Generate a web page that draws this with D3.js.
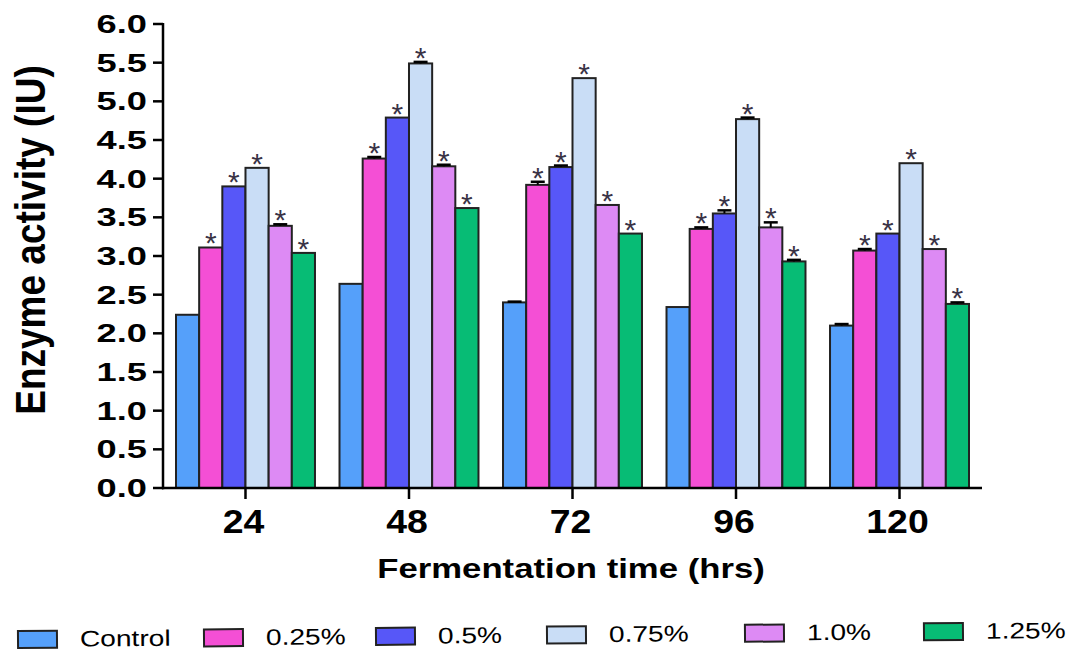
<!DOCTYPE html>
<html>
<head>
<meta charset="utf-8">
<script src="https://cdn.jsdelivr.net/npm/d3@7"></script>
<style>
  html, body { margin: 0; padding: 0; background: #fff; }
  svg { display: block; }
  text { font-family: "Liberation Sans", Arial, sans-serif; fill: #000; }
</style>
</head>
<body>
<svg id="chart" width="1077" height="652"></svg>
<script>
// Fermentation time points (hrs)
const times = ["24", "48", "72", "96", "120"];
// Treatment series
const series = ["Control", "0.25%", "0.5%", "0.75%", "1.0%", "1.25%"];
// Enzyme activity (IU), one array per series, indexed by time
const control = [2.24, 2.64, 2.40, 2.34, 2.10];
const p025    = [3.11, 4.26, 3.92, 3.35, 3.07];
const p050    = [3.90, 4.79, 4.15, 3.55, 3.29];
const p075    = [4.14, 5.49, 5.30, 4.77, 4.20];
const p100    = [3.39, 4.16, 3.66, 3.37, 3.09];
const p125    = [3.04, 3.62, 3.29, 2.93, 2.38];
// Standard error, same layout
const errControl = [0.00, 0.00, 0.01, 0.00, 0.02];
const err025     = [0.00, 0.02, 0.04, 0.02, 0.02];
const err050     = [0.00, 0.00, 0.02, 0.04, 0.00];
const err075     = [0.00, 0.02, 0.00, 0.02, 0.00];
const err100     = [0.02, 0.02, 0.00, 0.065, 0.00];
const err125     = [0.00, 0.00, 0.00, 0.02, 0.02];
// Significance marks (series differing from control)
const significant = [false, true, true, true, true, true];
// Y axis ticks
const yTicks = [0, 0.5, 1, 1.5, 2, 2.5, 3, 3.5, 4, 4.5, 5, 5.5, 6];

const values = [control, p025, p050, p075, p100, p125];
const errors = [errControl, err025, err050, err075, err100, err125];
const colors = ["#55a0fa", "#f44fd5", "#5757f8", "#c9ddf6", "#dd8af4", "#07bc75"];

const svg = d3.select("#chart");
svg.append("rect").attr("width", 1077).attr("height", 652).attr("fill", "#fff");

const y = d3.scaleLinear().domain([0, 6]).range([488, 24]);
const x0 = d3.scaleBand().domain(times).range([176, 969]).paddingInner(0.15).paddingOuter(0);
const x1 = d3.scaleBand().domain(series).range([0, x0.bandwidth()]).padding(0);

const rows = [];
times.forEach((t, ti) => {
  series.forEach((s, si) => {
    rows.push({ t, s, si, v: values[si][ti], e: errors[si][ti], star: significant[si] });
  });
});

// Bars
const g = svg.append("g");
const bar = g.selectAll("g.bar").data(rows).join("g").attr("class", "bar")
  .attr("transform", d => `translate(${x0(d.t) + x1(d.s)},0)`);

bar.append("rect")
  .attr("x", 0)
  .attr("y", d => y(d.v))
  .attr("width", x1.bandwidth())
  .attr("height", d => y(0) - y(d.v))
  .attr("fill", d => colors[d.si])
  .attr("stroke", "#222")
  .attr("stroke-width", 2);

// Error bars (upper only)
const withErr = bar.filter(d => d.e > 0);
const cx = x1.bandwidth() / 2;
withErr.append("line")
  .attr("x1", cx).attr("x2", cx)
  .attr("y1", d => y(d.v)).attr("y2", d => y(d.v + d.e))
  .attr("stroke", "#000").attr("stroke-width", 2);
withErr.append("line")
  .attr("x1", cx - 7).attr("x2", cx + 7)
  .attr("y1", d => y(d.v + d.e)).attr("y2", d => y(d.v + d.e))
  .attr("stroke", "#000").attr("stroke-width", 2.5);

// Significance asterisks
bar.filter(d => d.star).append("text")
  .attr("x", cx)
  .attr("y", d => y(d.v + d.e) + 6)
  .attr("text-anchor", "middle")
  .style("font-size", "30px")
  .style("fill", "#3a3346")
  .text("*");

// Y axis
const yAxis = svg.append("g");
yAxis.append("line")
  .attr("x1", 163).attr("x2", 163)
  .attr("y1", y(6) - 1).attr("y2", y(0) + 1.25)
  .attr("stroke", "#000").attr("stroke-width", 2.5);
yAxis.selectAll("line.tick").data(yTicks).join("line").attr("class", "tick")
  .attr("x1", 153).attr("x2", 163)
  .attr("y1", d => y(d)).attr("y2", d => y(d))
  .attr("stroke", "#000").attr("stroke-width", 2.5);
yAxis.selectAll("text").data(yTicks).join("text")
  .attr("transform", d => `translate(147,${y(d) + 9}) scale(1.45,1)`)
  .attr("text-anchor", "end")
  .style("font-size", "25px").style("font-weight", "bold")
  .text(d3.format(".1f"));

// X axis
const xAxis = svg.append("g");
xAxis.append("line")
  .attr("x1", 162).attr("x2", 982)
  .attr("y1", y(0)).attr("y2", y(0))
  .attr("stroke", "#000").attr("stroke-width", 2.5);
xAxis.selectAll("line.tick").data(times).join("line").attr("class", "tick")
  .attr("x1", d => x0(d) + x0.bandwidth() / 2).attr("x2", d => x0(d) + x0.bandwidth() / 2)
  .attr("y1", y(0)).attr("y2", y(0) + 11)
  .attr("stroke", "#000").attr("stroke-width", 2.5);
xAxis.selectAll("text").data(times).join("text")
  .attr("transform", d => `translate(${x0(d) + x0.bandwidth() / 2 - 2},533) scale(1.1,1)`)
  .attr("text-anchor", "middle")
  .style("font-size", "34px").style("font-weight", "bold")
  .text(d => d);

// Axis titles
svg.append("text")
  .attr("transform", "translate(571,578) scale(1.24,1)")
  .attr("text-anchor", "middle")
  .style("font-size", "28px").style("font-weight", "bold")
  .text("Fermentation time (hrs)");

svg.append("text")
  .attr("transform", "translate(45,240) rotate(-90) scale(1,1.15)")
  .attr("text-anchor", "middle")
  .style("font-size", "37px").style("font-weight", "bold")
  .text("Enzyme activity (IU)");

// Legend
const legendX = [18, 204, 376, 547, 745, 924];
const legend = svg.append("g").attr("transform", "rotate(-0.49,18,640)");
const item = legend.selectAll("g").data(series).join("g")
  .attr("transform", (d, i) => `translate(${legendX[i]},631)`);
item.append("rect")
  .attr("x", 0).attr("y", 0).attr("width", 39).attr("height", 17)
  .attr("fill", (d, i) => colors[i])
  .attr("stroke", "#222").attr("stroke-width", 2);
item.append("text")
  .attr("transform", "translate(62,16) scale(1.25,1)")
  .style("font-size", "22.5px")
  .text(d => d);
</script>
</body>
</html>
